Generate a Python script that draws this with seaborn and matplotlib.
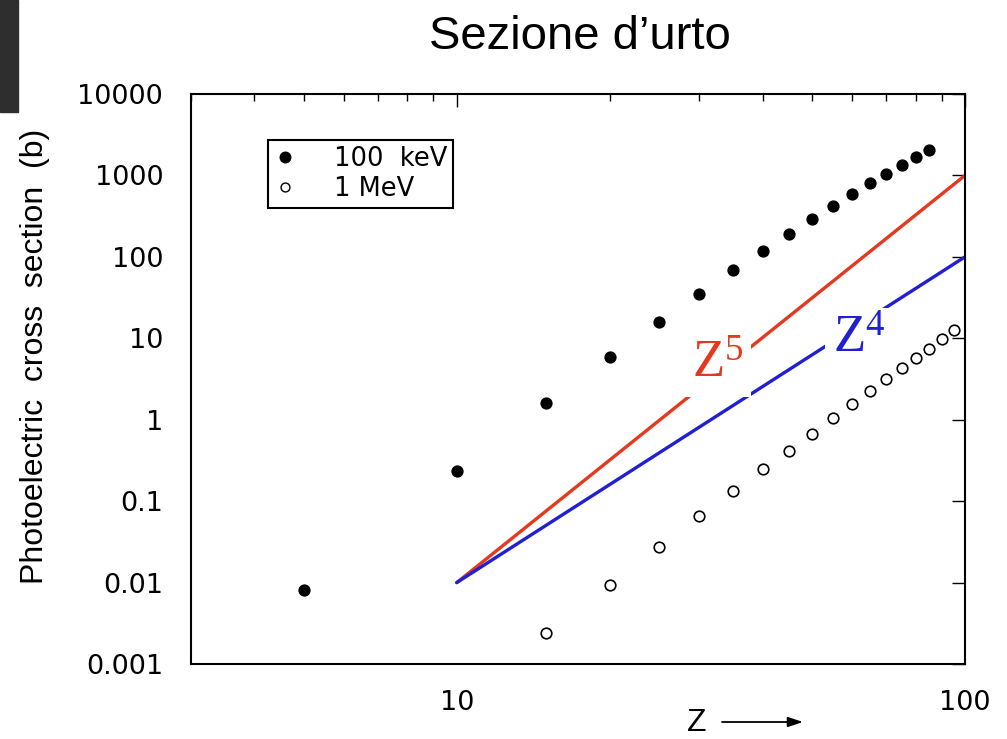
import numpy as np
import pandas as pd
import matplotlib
matplotlib.use("Agg")
import matplotlib.pyplot as plt
from matplotlib.ticker import LogLocator, NullFormatter, NullLocator
from matplotlib.lines import Line2D
from matplotlib.patches import Rectangle
import seaborn as sns

# ---------------- data ----------------
z_100kev = [5, 10, 15, 20, 25, 30, 35, 40, 45, 50, 55, 60, 65, 70, 75, 80, 85]
sigma_100kev = [0.0081, 0.237, 1.62, 5.86, 15.9, 35.1, 69.2, 118.6, 192, 293,
                423, 594, 811, 1047, 1350, 1693, 2063]

z_1mev = [15, 20, 25, 30, 35, 40, 45, 50, 55, 60, 65, 70, 75, 80, 85, 90, 95]
sigma_1mev = [0.0024, 0.0093, 0.027, 0.066, 0.133, 0.249, 0.414, 0.67, 1.05,
              1.56, 2.26, 3.17, 4.33, 5.74, 7.41, 9.84, 12.7]

z_line = [10, 100]
z5_line = [0.01, 1000]
z4_line = [0.01, 100]

series_labels = ["100  keV", "1 MeV"]
x_ticks = [10, 100]
x_tick_labels = ["10", "100"]
y_ticks = [0.001, 0.01, 0.1, 1, 10, 100, 1000, 10000]
y_tick_labels = ["0.001", "0.01", "0.1", "1", "10", "100", "1000", "10000"]

title = "Sezione d\u2019urto"
ylabel = "Photoelectric  cross  section  (b)"
xlabel = "Z"

RED = "#e5391f"
BLUE = "#2020d2"

# ---------------- style ----------------
sns.set_style("white")
plt.rcParams["font.family"] = ["DejaVu Sans"]
for k in ["text.color", "axes.labelcolor", "xtick.color", "ytick.color", "axes.edgecolor"]:
    plt.rcParams[k] = "black"

W, H = 1007, 739
fig = plt.figure(figsize=(W / 100, H / 100), dpi=100)
fig.patch.set_facecolor("white")

L, R, T, B = 191, 965, 94, 664
ax = fig.add_axes([L / W, 1 - B / H, (R - L) / W, (B - T) / H])
ax.set_facecolor("white")

df_line = pd.DataFrame({"z": z_line, "z5": z5_line, "z4": z4_line})
sns.lineplot(data=df_line, x="z", y="z5", ax=ax, color=RED, lw=2.4, legend=False, zorder=2)
sns.lineplot(data=df_line, x="z", y="z4", ax=ax, color=BLUE, lw=2.4, legend=False, zorder=2)

sns.scatterplot(x=z_100kev, y=sigma_100kev, ax=ax, color="black", s=78,
                edgecolor="black", linewidth=0, zorder=4, legend=False)
sns.scatterplot(x=z_1mev, y=sigma_1mev, ax=ax, color="white", s=58,
                edgecolor="black", linewidth=1.2, zorder=4, legend=False)

ax.set_xscale("log")
ax.set_yscale("log")
ax.set_xlim(3, 100)
ax.set_ylim(0.001, 10000)

ax.set_xticks(x_ticks)
ax.set_xticklabels(x_tick_labels)
ax.xaxis.set_minor_locator(LogLocator(base=10, subs=np.arange(2, 10)))
ax.xaxis.set_minor_formatter(NullFormatter())
ax.set_yticks(y_ticks)
ax.set_yticklabels(y_tick_labels)
ax.yaxis.set_minor_locator(NullLocator())

ax.tick_params(which="both", direction="in", top=True, right=True, color="black",
               labelcolor="black")
ax.tick_params(which="major", length=9.5, width=1.0, labelsize=19.5, pad=19)
ax.tick_params(which="minor", length=5, width=1.0)
ax.tick_params(axis="y", which="major", pad=20)

for s in ax.spines.values():
    s.set_color("black")
    s.set_linewidth(1.5)
    s.set_visible(True)

# power-law labels with white background interrupting the lines
box = dict(boxstyle="square,pad=0.15", facecolor="white", edgecolor="none")
ax.text(28.97, 3.26, r"$\mathregular{Z^{5}}$", color=RED, fontsize=38,
        family=["Liberation Serif"], ha="left", va="baseline", bbox=box, zorder=3)
ax.text(54.95, 6.62, r"$\mathregular{Z^{4}}$", color=BLUE, fontsize=38,
        family=["Liberation Serif"], ha="left", va="baseline", bbox=box, zorder=3)

# legend
handles = [
    Line2D([], [], ls="none", marker="o", ms=7.6, mfc="black", mec="black"),
    Line2D([], [], ls="none", marker="o", ms=6.4, mfc="white", mec="black", mew=1.0),
]
leg = ax.legend(handles, series_labels, loc="upper left",
                bbox_to_anchor=((268 - L) / (R - L), (B - 140) / (B - T)),
                borderaxespad=0, frameon=True, fancybox=False, fontsize=18.5,
                handlelength=0.8, handletextpad=1.5, borderpad=0.25,
                labelspacing=0.12)
leg.get_frame().set_edgecolor("black")
leg.get_frame().set_linewidth(1.5)
leg.get_frame().set_alpha(1)

# axis labels
ax.set_ylabel(ylabel, fontsize=23, family=["Liberation Sans"], va="center")
ax.yaxis.set_label_coords((35 - L) / (R - L), (B - 356) / (B - T))
ax.set_xlabel(xlabel, fontsize=23, family=["Liberation Sans"], va="center")
ax.xaxis.set_label_coords((697 - L) / (R - L), (B - 723) / (B - T))
ax.annotate("", xy=((803 - L) / (R - L), (B - 722) / (B - T)),
            xytext=((722 - L) / (R - L), (B - 722) / (B - T)),
            xycoords="axes fraction", textcoords="axes fraction",
            arrowprops=dict(arrowstyle="-|>,head_length=0.9,head_width=0.3",
                            lw=1.3, color="black", shrinkA=0, shrinkB=0))

# title
fig.text(580 / W, 1 - 37 / H, title, fontsize=34, family=["Liberation Sans"],
         ha="center", va="center", color="black")

# dark slide artefact in the top-left corner
fig.patches.append(Rectangle((0, 1 - 112 / H), 18 / W, 112 / H,
                             transform=fig.transFigure, color="#2e2e2e", zorder=0))

fig.savefig("out.png", dpi=100, facecolor="white")
